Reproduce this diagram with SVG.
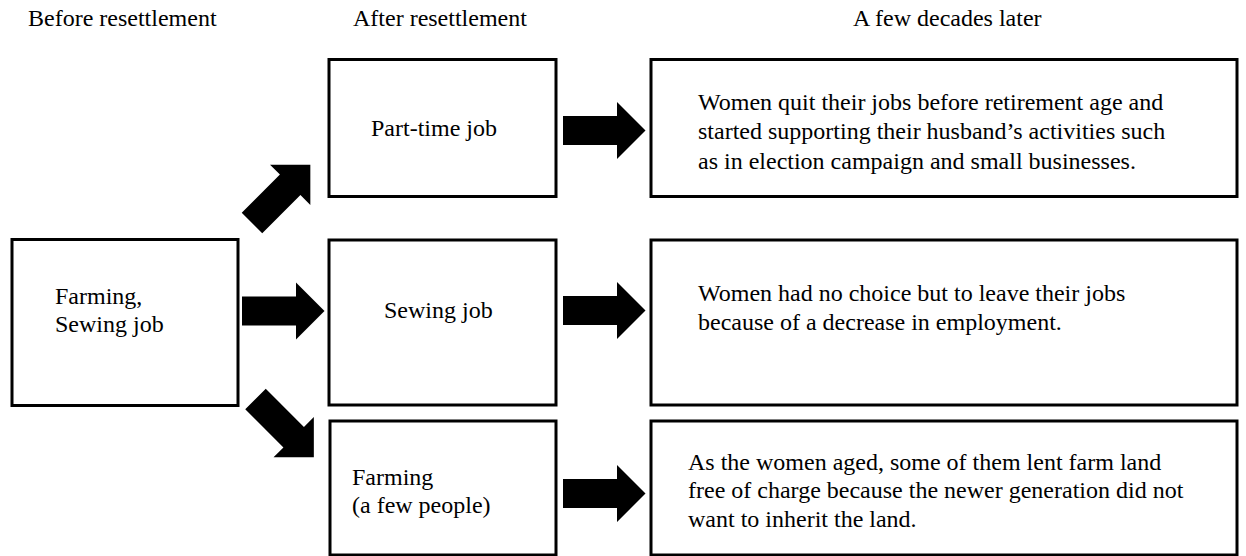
<svg xmlns="http://www.w3.org/2000/svg" width="1246" height="556" viewBox="0 0 1246 556">
<style>
  .box { fill: #ffffff; stroke: #000000; stroke-width: 3; }
  .t { font-family: "Liberation Serif", "Times New Roman", Tinos, "DejaVu Serif", serif; font-size: 24px; fill: #000000; }
  .arrow { fill: #000000; }
</style>
<defs>
  <polygon id="arr" points="0,-14.5 54,-14.5 54,-28.5 82.5,0 54,28.5 54,14.5 0,14.5"/>
</defs>
<rect width="1246" height="556" fill="#ffffff"/>
<g id="headers">
  <text class="t" x="28" y="26">Before resettlement</text>
  <text class="t" x="353" y="26">After resettlement</text>
  <text class="t" x="853" y="26">A few decades later</text>
</g>
<g id="before">
  <rect class="box" x="12" y="239.5" width="226" height="166"/>
  <text class="t" x="55" y="304">Farming,</text>
  <text class="t" x="55" y="332">Sewing job</text>
</g>
<g id="after-parttime">
  <rect class="box" x="329" y="59.5" width="227" height="137"/>
  <text class="t" x="371" y="136">Part-time job</text>
</g>
<g id="after-sewing">
  <rect class="box" x="329" y="240" width="227" height="165"/>
  <text class="t" x="384" y="318">Sewing job</text>
</g>
<g id="after-farming">
  <rect class="box" x="330" y="421" width="226" height="134"/>
  <text class="t" x="352" y="485">Farming</text>
  <text class="t" x="352" y="513">(a few people)</text>
</g>
<g id="later-parttime">
  <rect class="box" x="651" y="59.5" width="586" height="137"/>
  <text class="t" x="698" y="110">Women quit their jobs before retirement age and</text>
  <text class="t" x="698" y="139">started supporting their husband’s activities such</text>
  <text class="t" x="698" y="169">as in election campaign and small businesses.</text>
</g>
<g id="later-sewing">
  <rect class="box" x="651" y="240" width="586" height="165"/>
  <text class="t" x="698" y="301">Women had no choice but to leave their jobs</text>
  <text class="t" x="698" y="330">because of a decrease in employment.</text>
</g>
<g id="later-farming">
  <rect class="box" x="651" y="421" width="586" height="134"/>
  <text class="t" x="688" y="470">As the women aged, some of them lent farm land</text>
  <text class="t" x="688" y="498">free of charge because the newer generation did not</text>
  <text class="t" x="688" y="527">want to inherit the land.</text>
</g>
<g id="connectors" class="arrow">
  <use href="#arr" transform="translate(252,223) rotate(-45)"/>
  <use href="#arr" transform="translate(242,311)"/>
  <use href="#arr" transform="translate(255.5,399) rotate(45)"/>
  <use href="#arr" transform="translate(563,130.5)"/>
  <use href="#arr" transform="translate(563,310.5)"/>
  <use href="#arr" transform="translate(563,493.5)"/>
</g>
</svg>
